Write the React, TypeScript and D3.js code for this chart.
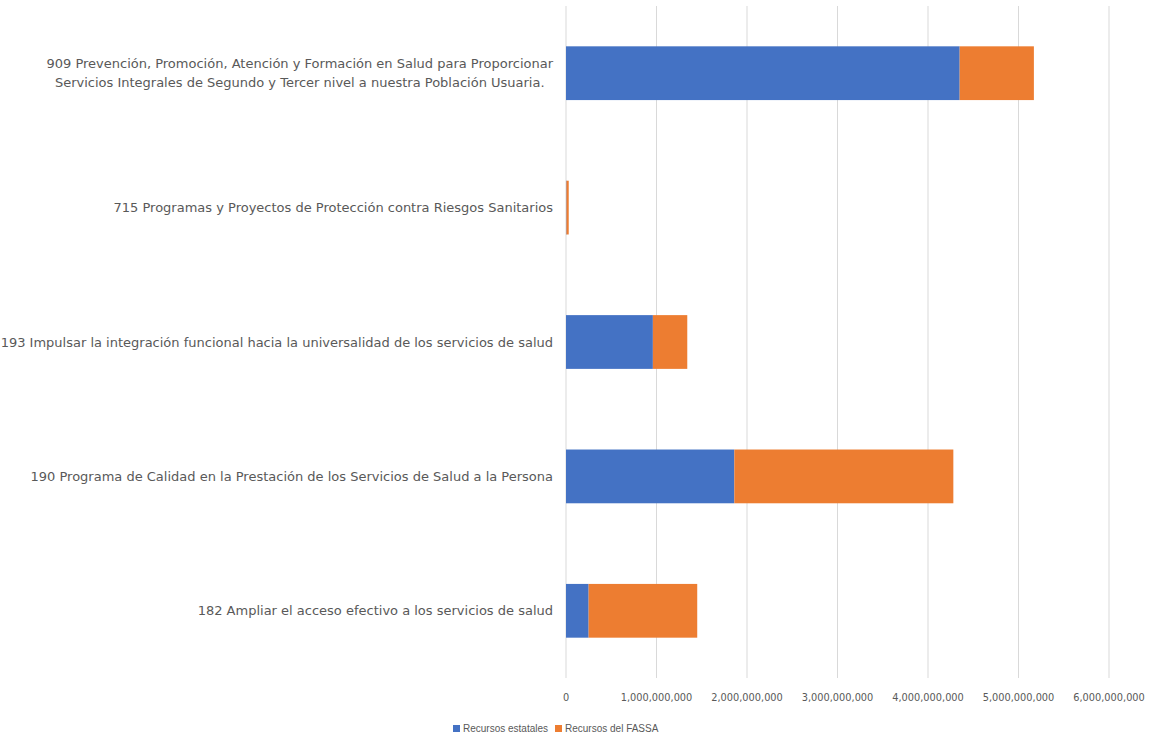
import React, { useEffect, useRef } from "react";
import * as d3 from "d3";

const categories: string[][] = [
  ["909 Prevención, Promoción, Atención y Formación en Salud para Proporcionar", "Servicios Integrales de Segundo y Tercer nivel a nuestra Población Usuaria."],
  ["715 Programas y Proyectos de Protección contra Riesgos Sanitarios"],
  ["193 Impulsar la integración funcional hacia la universalidad de los servicios de salud"],
  ["190 Programa de Calidad en la Prestación de los Servicios de Salud a la Persona"],
  ["182 Ampliar el acceso efectivo a los servicios de salud"],
];
const recursosEstatales = [4350000000, 5000000, 960000000, 1860000000, 250000000];
const recursosFASSA = [820000000, 25000000, 380000000, 2420000000, 1200000000];
const seriesNames = ["Recursos estatales", "Recursos del FASSA"];
const xTicks = [0, 1e9, 2e9, 3e9, 4e9, 5e9, 6e9];

const W = 1152, H = 739;
const colors = ["#4472C4", "#ED7D31"];
const FONT = "'DejaVu Sans', sans-serif";
const FONT2 = "'Liberation Sans', Arial, sans-serif";

export default function App() {
  const ref = useRef<SVGSVGElement>(null);
  useEffect(() => {
    document.body.style.margin = "0";
    const svg = d3.select(ref.current!);
    svg.selectAll("*").remove();
    const left = 566, right = 1109, top = 6, bottom = 678;
    const x = d3.scaleLinear().domain([0, 6e9]).range([left, right]);
    const y = d3.scaleBand<number>().domain(d3.range(categories.length)).range([top, bottom]).paddingInner(0.6).paddingOuter(0.3);

    svg.append("rect").attr("width", W).attr("height", H).attr("fill", "#fff");

    svg.append("g").selectAll("line").data(xTicks).join("line")
      .attr("x1", d => x(d)).attr("x2", d => x(d))
      .attr("y1", top).attr("y2", bottom)
      .attr("stroke", "#d9d9d9").attr("stroke-width", 1);

    const stackData = categories.map((_, i) => ({ i, a: recursosEstatales[i], b: recursosFASSA[i] }));
    const stack = d3.stack<any>().keys(["a", "b"])(stackData);
    stack.forEach((s, k) => {
      svg.append("g").attr("fill", colors[k]).selectAll("rect").data(s).join("rect")
        .attr("x", d => x(d[0]))
        .attr("width", d => x(d[1]) - x(d[0]))
        .attr("y", (d: any) => y(d.data.i)!)
        .attr("height", y.bandwidth());
    });

    svg.append("g").selectAll("text").data(xTicks).join("text")
      .attr("x", d => x(d)).attr("y", 701)
      .attr("text-anchor", "middle")
      .attr("font-family", FONT).attr("font-size", 9.8).attr("fill", "#595959")
      .text(d => d3.format(",")(d));

    const labelEnd = 553;
    categories.forEach((lines, i) => {
      const cy = y(i)! + y.bandwidth() / 2;
      const lh = 19;
      const y0 = cy - ((lines.length - 1) * lh) / 2 + 4.5;
      const first = svg.append("text")
        .attr("x", labelEnd).attr("y", y0)
        .attr("text-anchor", "end")
        .attr("font-family", FONT).attr("font-size", 13).attr("fill", "#595959")
        .text(lines[0]);
      const w1 = (first.node() as SVGTextElement).getComputedTextLength();
      for (let j = 1; j < lines.length; j++) {
        svg.append("text")
          .attr("x", labelEnd - w1 / 2).attr("y", y0 + j * lh)
          .attr("text-anchor", "middle")
          .attr("font-family", FONT).attr("font-size", 13).attr("fill", "#595959")
          .text(lines[j]);
      }
    });

    const legend = svg.append("g");
    const lx = [453, 555];
    seriesNames.forEach((n, k) => {
      legend.append("rect").attr("x", lx[k]).attr("y", 725).attr("width", 7).attr("height", 7).attr("fill", colors[k]);
      legend.append("text").attr("x", lx[k] + 10).attr("y", 732)
        .attr("font-family", FONT2).attr("font-size", 10).attr("fill", "#595959").text(n);
    });
  }, []);
  return <svg ref={ref} width={W} height={H} style={{ display: "block" }} />;
}
